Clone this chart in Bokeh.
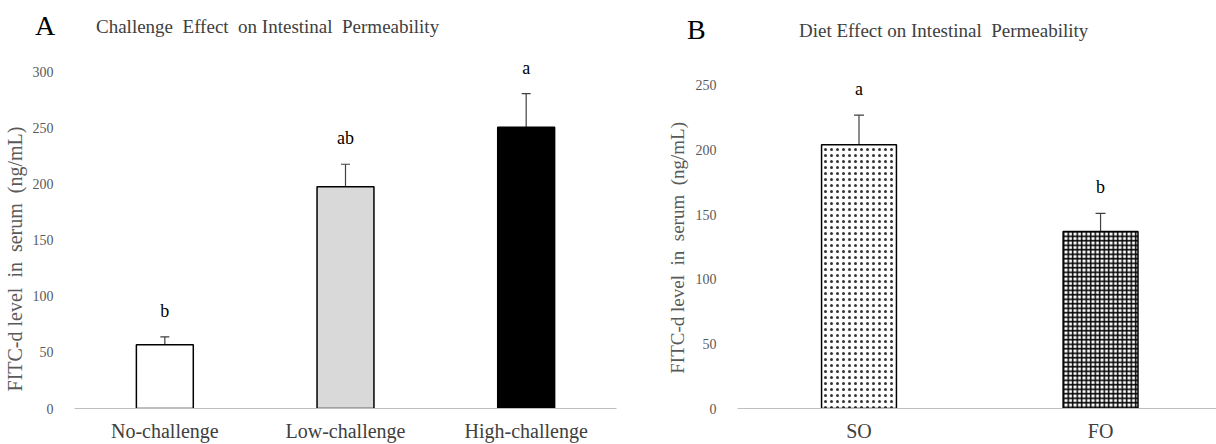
from bokeh.plotting import figure
from bokeh.layouts import row, column
from bokeh.models import (ColumnDataSource, Range1d, FixedTicker, Whisker, TeeHead, Div)
from bokeh.core.properties import value
from bokeh.embed import file_html
from bokeh.resources import INLINE

# ---- data ----
categories_a = ["No-challenge", "Low-challenge", "High-challenge"]
means_a = [57, 198, 251]
errors_a = [7, 20, 30]
letters_a = ["b", "ab", "a"]
fills_a = ["#ffffff", "#d9d9d9", "#000000"]
ticks_a = [0, 50, 100, 150, 200, 250, 300]

categories_b = ["SO", "FO"]
means_b = [204, 137]
errors_b = [23, 14]
letters_b = ["a", "b"]
patterns_b = [".", "+"]
ticks_b = [0, 50, 100, 150, 200, 250]

title_a = "Challenge  Effect  on Intestinal  Permeability"
title_b = "Diet Effect on Intestinal  Permeability"
ylabel = "FITC-d level\u00a0 in\u00a0 serum\u00a0 (ng/mL)"

SERIF = "Liberation Serif"
NB = "\u00a0"


def style(p, cats, ticks, pad, label_size):
    p.xaxis.ticker = FixedTicker(ticks=list(range(len(cats))))
    p.xaxis.major_label_overrides = {i: c for i, c in enumerate(cats)}
    p.xaxis.major_tick_line_color = None
    p.xaxis.minor_tick_line_color = None
    p.xaxis.axis_line_color = "#bfbfbf"
    p.xaxis.axis_line_width = 1
    p.xaxis.major_label_text_font = SERIF
    p.xaxis.major_label_text_font_size = "20px"
    p.xaxis.major_label_text_color = "#404040"
    p.xaxis.major_label_standoff = 5
    p.yaxis.ticker = FixedTicker(ticks=ticks)
    p.yaxis.axis_line_color = None
    p.yaxis.major_tick_line_color = None
    p.yaxis.minor_tick_line_color = None
    p.yaxis.major_label_text_font = SERIF
    p.yaxis.major_label_text_font_size = "14px"
    p.yaxis.major_label_text_color = "#595959"
    p.yaxis.axis_label = ylabel + NB * pad
    p.yaxis.axis_label_text_font = SERIF
    p.yaxis.axis_label_text_font_size = label_size
    p.yaxis.axis_label_text_font_style = "normal"
    p.yaxis.axis_label_text_color = "#595959"
    p.xgrid.grid_line_color = None
    p.ygrid.grid_line_color = None
    p.outline_line_color = None
    p.background_fill_color = "white"
    p.border_fill_color = "white"


# ---- header (panel letters and titles) ----
header = Div(
    text=(
        '<div style="position:relative;width:1216px;height:44px;'
        'font-family:\'Liberation Serif\',serif;line-height:1;white-space:pre;">'
        '<span style="position:absolute;left:35px;top:12px;font-size:28px;color:#000;">A</span>'
        f'<span style="position:absolute;left:96px;top:17px;font-size:19px;color:#404040;">{title_a}</span>'
        '<span style="position:absolute;left:687px;top:16px;font-size:28px;color:#000;">B</span>'
        f'<span style="position:absolute;left:799px;top:21px;font-size:19px;color:#404040;">{title_b}</span>'
        '</div>'),
    width=1216, height=44, margin=(0, 0, 0, 0))

# ---- Panel A ----
src_a = ColumnDataSource(dict(
    x=list(range(len(categories_a))), top=means_a,
    upper=[m + e for m, e in zip(means_a, errors_a)],
    fill=fills_a, letter=letters_a))

pa = figure(width=660, height=400, output_backend="svg", toolbar_location=None,
            x_range=Range1d(-0.5, 2.5), y_range=Range1d(0, 324.9),
            min_border_left=73, min_border_right=44, min_border_top=0,
            min_border_bottom=35, margin=(0, 0, 0, 0))
style(pa, categories_a, ticks_a, 13, "20px")
pa.yaxis.major_label_standoff = 15
pa.yaxis.axis_label_standoff = 4
pa.vbar(x="x", top="top", width=0.315, source=src_a, fill_color="fill",
        line_color="black", line_width=1.5)
pa.add_layout(Whisker(base="x", upper="upper", lower="top", source=src_a,
                      line_color="#404040", line_width=1.2,
                      upper_head=TeeHead(size=9, line_color="#404040", line_width=1.2),
                      lower_head=None))
pa.text(x="x", y="upper", text="letter", source=src_a, text_align="center",
        text_baseline="bottom", y_offset=-16, text_font=value(SERIF),
        text_font_size="18px", text_color="black")

# ---- Panel B ----
pb = figure(width=556, height=400, output_backend="svg", toolbar_location=None,
            x_range=Range1d(-0.503, 1.480), y_range=Range1d(0, 281.6),
            min_border_left=77, min_border_right=0, min_border_top=0,
            min_border_bottom=35, margin=(0, 0, 0, 0))
style(pb, categories_b, ticks_b, 9, "19px")
pb.yaxis.major_label_standoff = 15
pb.yaxis.axis_label_standoff = 5
hatch_scales = {".": 6, "+": 4.5}
hatch_weights = {".": 0.5, "+": 1.5}
hatch_colors = {".": "#333333", "+": "black"}
for i, (m, pat) in enumerate(zip(means_b, patterns_b)):
    pb.vbar(x=[i], top=[m], width=0.31, fill_color="white",
            line_color="black", line_width=1.5, hatch_pattern=pat,
            hatch_color=hatch_colors[pat], hatch_scale=hatch_scales[pat],
            hatch_weight=hatch_weights[pat])
src_b = ColumnDataSource(dict(
    x=list(range(len(categories_b))), top=means_b,
    upper=[m + e for m, e in zip(means_b, errors_b)],
    letter=letters_b))
pb.add_layout(Whisker(base="x", upper="upper", lower="top", source=src_b,
                      line_color="#404040", line_width=1.2,
                      upper_head=TeeHead(size=10, line_color="#404040", line_width=1.2),
                      lower_head=None))
pb.text(x="x", y="upper", text="letter", source=src_b, text_align="center",
        text_baseline="bottom", y_offset=-16, text_font=value(SERIF),
        text_font_size="18px", text_color="black")

layout = column(header, row(pa, pb, spacing=0), spacing=0)
open("out.html", "w").write(file_html(layout, INLINE))
